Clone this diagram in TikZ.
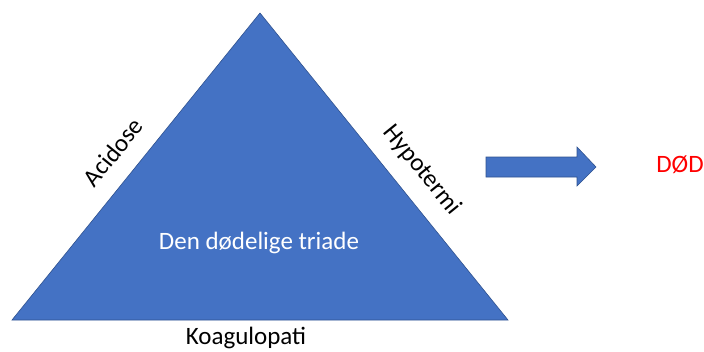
\documentclass[tikz,border=0pt]{standalone}
\usepackage{fontspec}
\setmainfont{Carlito}
\definecolor{offblue}{HTML}{4472C4}
\definecolor{offedge}{HTML}{2F528F}
\begin{document}
\begin{tikzpicture}[x=1pt,y=-1pt,
  shape fill/.style={fill=offblue,draw=offedge,line width=0.6pt,line join=miter},
  lbl/.style={font=\fontsize{25}{30}\selectfont,inner sep=0pt,text=black}]
\useasboundingbox (0,0) rectangle (704,351);
\coordinate (apex) at (260,13);
\coordinate (bl) at (12,320);
\coordinate (br) at (508,320);
\path[shape fill] (apex) -- (br) -- (bl) -- cycle;
\node[lbl,text=white] (center) at (259,243) {Den dødelige triade};
\node[lbl] (koag) at (246,338) {Koagulopati};
\node[lbl,rotate=51] (acid) at (113,152) {Acidose};
\node[lbl,rotate=-51] (hypo) at (422,170) {Hypotermi};
\path[shape fill] (486,157) -- (577,157) -- (577,147) -- (596,167) -- (577,186) -- (577,177) -- (486,177) -- cycle;
\node[lbl,text=red] (dod) at (680,165) {DØD};
\end{tikzpicture}
\end{document}
